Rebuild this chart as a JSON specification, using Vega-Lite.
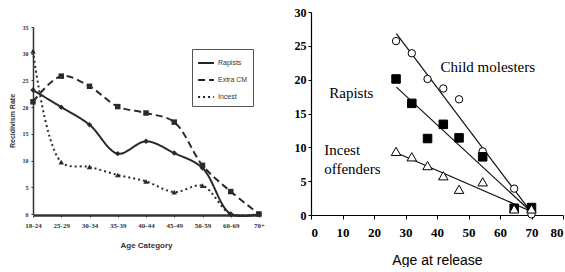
{
  "$schema": "https://vega.github.io/schema/vega-lite/v6.json",
  "padding": {"left": 8, "top": 6, "right": 0, "bottom": 0},
  "background": "white",
  "spacing": 29,
  "config": {"view": {"stroke": null}},
  "resolve": {"scale": {"shape": "independent", "size": "independent", "fill": "independent", "strokeDash": "independent"}, "legend": {"shape": "independent", "strokeDash": "independent"}},
  "datasets": {
    "left": [
      {"age": "18-24", "series": "Rapists", "rate": 23.2},
      {"age": "25-29", "series": "Rapists", "rate": 20.0},
      {"age": "30-34", "series": "Rapists", "rate": 16.7},
      {"age": "35-39", "series": "Rapists", "rate": 11.3},
      {"age": "40-44", "series": "Rapists", "rate": 13.6},
      {"age": "45-49", "series": "Rapists", "rate": 11.4},
      {"age": "50-59", "series": "Rapists", "rate": 8.6},
      {"age": "60-69", "series": "Rapists", "rate": 0},
      {"age": "70+", "series": "Rapists", "rate": 0},
      {"age": "18-24", "series": "Extra CM", "rate": 21.0},
      {"age": "25-29", "series": "Extra CM", "rate": 25.8},
      {"age": "30-34", "series": "Extra CM", "rate": 23.9},
      {"age": "35-39", "series": "Extra CM", "rate": 20.1},
      {"age": "40-44", "series": "Extra CM", "rate": 18.9},
      {"age": "45-49", "series": "Extra CM", "rate": 17.2},
      {"age": "50-59", "series": "Extra CM", "rate": 9.1},
      {"age": "60-69", "series": "Extra CM", "rate": 4.2},
      {"age": "70+", "series": "Extra CM", "rate": 0},
      {"age": "18-24", "series": "Incest", "rate": 30.5},
      {"age": "25-29", "series": "Incest", "rate": 9.7},
      {"age": "30-34", "series": "Incest", "rate": 8.8},
      {"age": "35-39", "series": "Incest", "rate": 7.3},
      {"age": "40-44", "series": "Incest", "rate": 6.1},
      {"age": "45-49", "series": "Incest", "rate": 4.1},
      {"age": "50-59", "series": "Incest", "rate": 5.3},
      {"age": "60-69", "series": "Incest", "rate": 0},
      {"age": "70+", "series": "Incest", "rate": 0}
    ],
    "right": [
      {"group": "Child molesters", "age": 27, "rate": 25.7},
      {"group": "Child molesters", "age": 32, "rate": 23.9},
      {"group": "Child molesters", "age": 37, "rate": 20.1},
      {"group": "Child molesters", "age": 42, "rate": 18.7},
      {"group": "Child molesters", "age": 47, "rate": 17.1},
      {"group": "Child molesters", "age": 54.5, "rate": 9.4},
      {"group": "Child molesters", "age": 64.5, "rate": 3.9},
      {"group": "Child molesters", "age": 70, "rate": 0.1},
      {"group": "Rapists", "age": 27, "rate": 20.1},
      {"group": "Rapists", "age": 32, "rate": 16.5},
      {"group": "Rapists", "age": 37, "rate": 11.3},
      {"group": "Rapists", "age": 42, "rate": 13.4},
      {"group": "Rapists", "age": 47, "rate": 11.4},
      {"group": "Rapists", "age": 54.5, "rate": 8.6},
      {"group": "Rapists", "age": 64.5, "rate": 1.0},
      {"group": "Rapists", "age": 70, "rate": 1.1},
      {"group": "Incest offenders", "age": 27, "rate": 9.4},
      {"group": "Incest offenders", "age": 32, "rate": 8.6},
      {"group": "Incest offenders", "age": 37, "rate": 7.3},
      {"group": "Incest offenders", "age": 42, "rate": 5.8},
      {"group": "Incest offenders", "age": 47, "rate": 3.8},
      {"group": "Incest offenders", "age": 54.5, "rate": 4.9},
      {"group": "Incest offenders", "age": 64.5, "rate": 0.9},
      {"group": "Incest offenders", "age": 70, "rate": 0.9}
    ],
    "fits": [
      {"group": "Child molesters", "age": 27.1, "rate": 26.8},
      {"group": "Child molesters", "age": 69.6, "rate": 0.6},
      {"group": "Rapists", "age": 27.1, "rate": 18.9},
      {"group": "Rapists", "age": 69.6, "rate": 0.6},
      {"group": "Incest offenders", "age": 27.1, "rate": 9.2},
      {"group": "Incest offenders", "age": 69.6, "rate": 0.6}
    ],
    "labels": [
      {"label": "Child molesters", "age": 41.1, "rate": 21.9},
      {"label": "Rapists", "age": 5.8, "rate": 18.0},
      {"label": "Incest", "age": 4.2, "rate": 9.6},
      {"label": "offenders", "age": 4.2, "rate": 6.8}
    ]
  },
  "hconcat": [
    {
      "width": 226,
      "height": 203,
      "data": {"name": "left"},
      "encoding": {
        "x": {
          "field": "age", "type": "ordinal",
          "scale": {"type": "point", "padding": 0, "domain": ["18-24","25-29","30-34","35-39","40-44","45-49","50-59","60-69","70+"]},
          "axis": {"title": "Age Category", "labelAngle": 0, "labelFont": "Liberation Serif", "labelFontWeight": "bold", "labelFontSize": 7, "labelColor": "#333", "labelPadding": 4, "tickSize": 2, "tickColor": "#333", "domainColor": "#333", "domainWidth": 2.5, "titleFont": "Liberation Sans", "titleFontSize": 8, "titleFontWeight": "bold", "titleColor": "#333", "titlePadding": 13}
        },
        "y": {
          "field": "rate", "type": "quantitative",
          "scale": {"domain": [0, 35], "nice": false, "range": [202, 15]},
          "axis": {"title": "Recidivism Rate", "values": [0,5,10,15,20,25,30,35], "grid": false, "labelFont": "Liberation Serif", "labelFontWeight": "bold", "labelFontSize": 6, "labelColor": "#333", "labelPadding": 3, "tickSize": 2, "tickColor": "#333", "domainColor": "#333", "domainWidth": 1.5, "titleFont": "Liberation Sans", "titleFontSize": 7, "titleFontWeight": "bold", "titleColor": "#333", "titlePadding": 7}
        }
      },
      "layer": [
        {
          "mark": {"type": "line", "interpolate": "catmull-rom", "color": "#2a2a2a", "strokeWidth": 2},
          "encoding": {
            "strokeDash": {
              "field": "series", "type": "nominal",
              "scale": {"domain": ["Rapists", "Extra CM", "Incest"], "range": [[1, 0], [7, 4], [2, 3]]},
              "legend": {
                "title": null, "orient": "none", "legendX": 159, "legendY": 37,
                "symbolType": "stroke", "symbolStrokeColor": "#222", "symbolStrokeWidth": 2, "symbolSize": 250,
                "labelFont": "Liberation Sans", "labelFontSize": 7, "labelColor": "#333", "labelOffset": 3, "rowPadding": 4, "padding": 5,
                "strokeColor": "#555", "fillColor": "white"
              }
            }
          }
        },
        {
          "transform": [{"filter": "datum.series === 'Rapists'"}],
          "mark": {"type": "point", "shape": "diamond", "filled": true, "color": "#2a2a2a", "opacity": 1, "size": 30}
        },
        {
          "transform": [{"filter": "datum.series === 'Extra CM'"}],
          "mark": {"type": "point", "shape": "square", "filled": true, "color": "#2a2a2a", "opacity": 1, "size": 30}
        },
        {
          "transform": [{"filter": "datum.series === 'Incest'"}],
          "mark": {"type": "point", "shape": "triangle-up", "filled": true, "color": "#2a2a2a", "opacity": 1, "size": 30}
        }
      ]
    },
    {
      "width": 252,
      "height": 203,
      "encoding": {
        "x": {
          "field": "age", "type": "quantitative",
          "scale": {"domain": [0, 80], "nice": false},
          "axis": {"title": "Age at release", "values": [0,10,20,30,40,50,60,70,80], "labelOverlap": false, "grid": false, "labelFont": "Liberation Serif", "labelFontWeight": "bold", "labelFontSize": 13, "labelColor": "#000", "labelPadding": 7, "tickSize": 4, "tickColor": "#000", "domainColor": "#000", "domainWidth": 1.2, "titleFont": "Liberation Sans", "titleFontSize": 14, "titleFontWeight": "normal", "titleColor": "#000", "titlePadding": 14}
        },
        "y": {
          "field": "rate", "type": "quantitative",
          "scale": {"domain": [0, 30], "nice": false},
          "axis": {"title": null, "values": [0,5,10,15,20,25,30], "labelOverlap": false, "grid": false, "labelFont": "Liberation Serif", "labelFontWeight": "bold", "labelFontSize": 12, "labelColor": "#000", "labelPadding": 2, "tickSize": 3, "tickColor": "#000", "domainColor": "#000", "domainWidth": 1.2}
        }
      },
      "layer": [
        {
          "data": {"name": "fits"},
          "mark": {"type": "line", "color": "#111", "strokeWidth": 1.2},
          "encoding": {
            "detail": {"field": "group"}
          }
        },
        {
          "data": {"name": "right"},
          "mark": {"type": "point", "opacity": 1, "strokeWidth": 1},
          "encoding": {
            "shape": {
              "field": "group", "type": "nominal",
              "scale": {"domain": ["Child molesters", "Rapists", "Incest offenders"], "range": ["circle", "square", "triangle-up"]},
              "legend": null
            },
            "fill": {
              "field": "group", "type": "nominal",
              "scale": {"domain": ["Child molesters", "Rapists", "Incest offenders"], "range": ["white", "black", "white"]},
              "legend": null
            },
            "color": {"value": "black"},
            "size": {"field": "group", "type": "nominal", "scale": {"domain": ["Child molesters", "Rapists", "Incest offenders"], "range": [55, 90, 50]}, "legend": null}
          }
        },
        {
          "data": {"name": "labels"},
          "mark": {"type": "text", "align": "left", "baseline": "middle", "font": "Liberation Serif", "fontSize": 15, "color": "black"},
          "encoding": {
            "text": {"field": "label"}
          }
        }
      ]
    }
  ]
}
